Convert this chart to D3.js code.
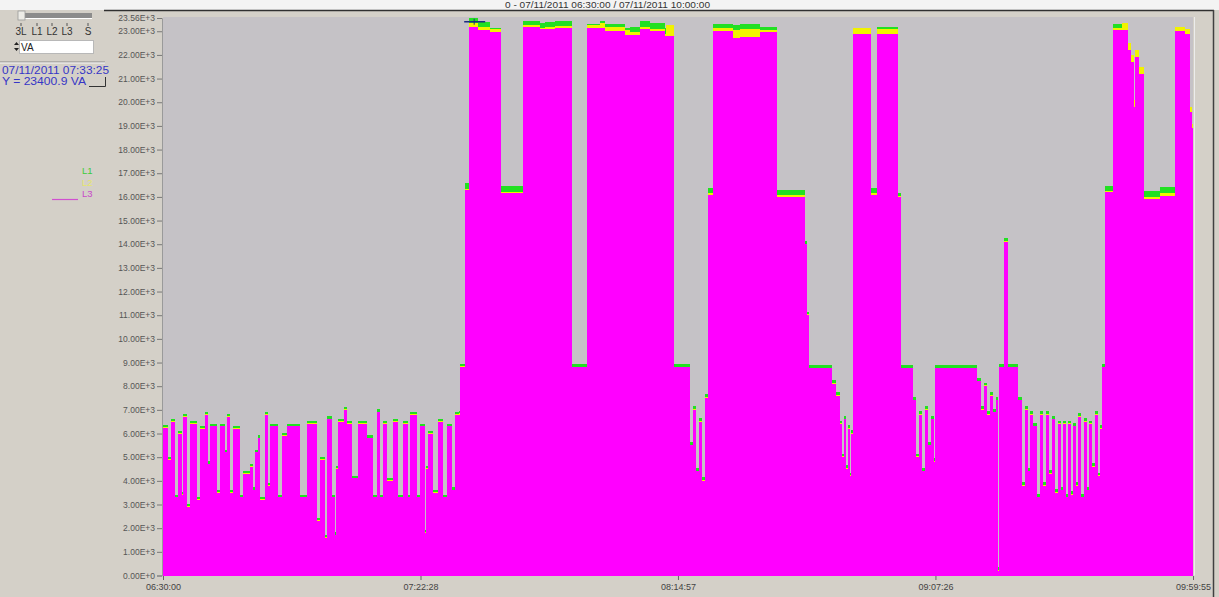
<!DOCTYPE html>
<html>
<head>
<meta charset="utf-8">
<script src="https://cdn.jsdelivr.net/npm/d3@7"></script>
<style>
  body { margin: 0; background: #d4d0c8; }
  svg { display: block; font-family: "Liberation Sans", Arial, sans-serif; }
</style>
</head>
<body>
<svg id="chart" width="1219" height="597"></svg>
<script>
// L3 apparent power, step changes: minutes after 06:30:00 -> kVA
const l3Time = [
  0, 1.02, 1.63, 2.45, 3.06, 3.87, 4.08, 4.89, 5.50, 6.93, 7.54, 8.56, 9.17, 9.58,
  11.01, 11.62, 12.64, 13.04, 13.65, 14.27, 15.69, 16.30, 17.73, 18.34, 18.75, 19.36,
  19.77, 20.79, 21.40, 21.81, 23.44, 24.25, 25.27, 27.92, 29.35, 31.39, 32.00, 33.02,
  33.42, 34.44, 35.05, 35.26, 35.67, 36.89, 37.50, 38.52, 39.74, 41.58, 42.80, 43.61,
  44.22, 44.84, 45.65, 46.87, 47.89, 48.91, 49.93, 50.34, 51.77, 52.38, 53.40, 53.60,
  54.01, 55.03, 56.05, 57.07, 57.88, 58.90, 59.51, 60.53, 61.55, 62.37, 64.20, 66.64,
  68.89, 73.37, 76.83, 79.89, 83.36, 86.41, 90.08, 94.16, 97.21, 99.25, 102.31, 104.14,
  107.40, 108.01, 108.63, 109.24, 109.85, 110.46, 111.07, 112.09, 116.17, 117.60, 121.67,
  125.13, 130.84, 131.25, 131.66, 136.35, 137.16, 137.97, 138.38, 138.79, 139.20, 139.61,
  140.02, 140.22, 140.62, 144.29, 145.51, 149.79, 150.41, 152.86, 153.47, 154.08, 154.69,
  155.30, 155.91, 156.52, 157.13, 157.34, 165.90, 166.71, 167.32, 167.93, 168.54, 169.16,
  169.77, 170.17, 170.38, 171.40, 172.21, 174.25, 175.06, 175.67, 176.29, 176.70, 177.31,
  178.13, 178.74, 179.35, 179.96, 180.57, 181.18, 181.79, 182.41, 183.02, 183.43, 184.04,
  184.45, 185.06, 185.47, 186.08, 186.49, 187.10, 187.71, 188.31, 188.73, 189.34, 189.95,
  190.57, 190.97, 191.38, 191.99, 193.62, 196.68, 197.29, 197.90, 198.11, 198.92, 199.94,
  203.20, 206.25, 208.29, 209.31, 209.72
];
const l3Kva = [
  6.25, 4.9, 6.5, 3.3, 6.0, 3.4, 6.7, 2.9, 6.4, 3.2, 6.2, 6.8, 4.7, 6.3,
  3.5, 6.3, 5.2, 6.7, 3.5, 6.2, 3.3, 4.3, 4.6, 3.6, 5.2, 5.8,
  3.2, 6.8, 3.8, 6.3, 3.3, 5.9, 6.3, 3.3, 6.4, 2.3, 4.9, 1.6,
  6.6, 3.3, 1.7, 4.5, 6.5, 7.0, 6.4, 4.1, 6.4, 5.8, 3.3, 6.9,
  3.3, 6.4, 4.0, 6.5, 3.3, 6.4, 3.3, 6.8, 3.3, 6.3, 1.8, 4.5,
  6.0, 3.5, 6.5, 3.3, 6.3, 3.6, 6.8, 8.8, 16.3, 23.2, 23.05, 22.95,
  16.15, 23.2, 23.1, 23.15, 8.8, 23.15, 23.0, 22.85, 23.1, 23.0, 22.8, 8.8,
  5.5, 7.0, 4.4, 6.5, 4.0, 7.5, 16.1, 23.0, 22.7, 22.75, 22.95,
  16.0, 14.0, 11.0, 8.75, 8.1, 7.6, 6.4, 5.0, 6.6, 4.5, 6.2,
  4.2, 6.0, 22.9, 16.1, 22.9, 16.0, 8.75, 7.4, 5.0, 6.8, 4.4,
  7.0, 5.5, 6.6, 4.8, 8.75, 8.2, 7.0, 8.0, 6.8, 7.6, 6.9,
  7.4, 0.2, 8.8, 14.1, 8.8, 7.4, 3.8, 7.0, 4.4, 6.8, 6.3,
  3.3, 6.8, 3.8, 6.8, 4.3, 6.6, 3.5, 6.4, 3.6, 6.4, 3.3,
  6.4, 3.4, 6.3, 3.8, 6.7, 3.3, 6.5, 3.6, 6.4, 4.6, 6.8,
  4.2, 6.2, 8.8, 16.2, 23.05, 22.2, 21.7, 19.8, 21.9, 21.2, 15.9,
  16.05, 23.0, 22.9, 19.6, 18.9
];
const endTime = 209.92;

// how far L1 and L2 sit above L3 in each stretch (kVA)
const bandTime = [0, 60.33, 61.55, 62.37, 66.64, 68.89, 73.37, 77.85, 83.36, 86.41, 89.06,
  95.18, 102.51, 104.14, 111.07, 112.09, 116.17, 121.67, 125.13, 130.84, 140.62, 144.29,
  145.51, 149.79, 191.99, 193.62, 195.46, 199.94, 206.25];
const l1Over = [0.12, 0.15, 0.28, 0.35, 0.2, 0.3, 0.25, 0.3, 0.15, 0.15, 0.3,
  0.35, 0.2, 0.15, 0.28, 0.3, 0.55, 0.25, 0.28, 0.15, 0.1, 0.28,
  0.3, 0.15, 0.28, 0.25, 0.1, 0.35, 0.1];
const l2Over = [0.03, 0.05, 0.05, 0.15, 0.15, 0.06, 0.05, 0.08, 0.03, 0.1, 0.2,
  0.1, 0.45, 0.03, 0.05, 0.15, 0.35, 0.1, 0.06, 0.03, 0.25, 0.05,
  0.2, 0.03, 0.05, 0.1, 0.3, 0.1, 0.2];

const yTicks = [0, 1, 2, 3, 4, 5, 6, 7, 8, 9, 10, 11, 12, 13, 14, 15, 16, 17, 18, 19, 20, 21, 22, 23, 23.56];
const xTickTimes = [0, 52.48, 104.95, 157.43, 209.92];
const xTickLabels = ["06:30:00", "07:22:28", "08:14:57", "09:07:26", "09:59:55"];

const cursorTime = 63.42;   // 07:33:25
const cursorKva = 23.4009;
const phases = ["L1", "L2", "L3"];
const phaseColors = ["#22e022", "#f2f200", "#ff00ff"];

const svg = d3.select("#chart");
const W = 1219, H = 597;
const plot = { left: 163, right: 1193, top: 18, bottom: 575.5 };

const x = d3.scaleLinear().domain([0, endTime]).range([plot.left, plot.right]);
const y = d3.scaleLinear().domain([0, 23.56]).range([plot.bottom, plot.top]);

// window chrome
svg.append("rect").attr("width", W).attr("height", H).attr("fill", "#d4d0c8");
svg.append("rect").attr("width", W).attr("height", 10).attr("fill", "#f3f3f3");
svg.append("line").attr("x1", 104).attr("x2", 1214).attr("y1", 10.5).attr("y2", 10.5)
  .attr("stroke", "#303030").attr("stroke-width", 1.5);
svg.append("line").attr("x1", 1213.5).attr("x2", 1213.5).attr("y1", 10).attr("y2", H)
  .attr("stroke", "#404040").attr("stroke-width", 1.5);
svg.append("text").attr("x", 505).attr("y", 8).attr("font-size", 8.5).attr("fill", "#333")
  .attr("textLength", 205).attr("lengthAdjust", "spacingAndGlyphs")
  .text("0 - 07/11/2011 06:30:00 / 07/11/2011 10:00:00");

svg.append("rect").attr("x", plot.left).attr("y", plot.top - 1)
  .attr("width", plot.right - plot.left).attr("height", plot.bottom - plot.top + 1)
  .attr("fill", "#c5c2c6");
svg.append("line").attr("x1", plot.right + 1.5).attr("x2", plot.right + 1.5)
  .attr("y1", plot.top - 1).attr("y2", plot.bottom).attr("stroke", "#ececec");

// build phase series
function stepAt(times, vals, t) {
  const i = Math.max(d3.bisectRight(times, t) - 1, 0);
  return vals[i];
}
const allTimes = Array.from(new Set(l3Time.concat(bandTime))).sort((a, b) => a - b);
allTimes.push(endTime);
const series = [
  allTimes.map(t => ({ t, v: stepAt(l3Time, l3Kva, t) + stepAt(bandTime, l1Over, t) })),
  allTimes.map(t => ({ t, v: stepAt(l3Time, l3Kva, t) + stepAt(bandTime, l2Over, t) })),
  allTimes.map(t => ({ t, v: stepAt(l3Time, l3Kva, t) }))
];

const area = d3.area()
  .curve(d3.curveStepAfter)
  .x(d => x(d.t))
  .y0(y(0))
  .y1(d => y(d.v));

svg.append("g")
  .selectAll("path")
  .data(series)
  .enter().append("path")
  .attr("d", area)
  .attr("fill", (d, i) => phaseColors[i])
  .attr("shape-rendering", "crispEdges");

// cursor cross
svg.append("line").attr("x1", x(cursorTime) - 10).attr("x2", x(cursorTime) + 11)
  .attr("y1", y(cursorKva)).attr("y2", y(cursorKva)).attr("stroke", "#1c2c80").attr("stroke-width", 1.5);
svg.append("line").attr("x1", x(cursorTime)).attr("x2", x(cursorTime))
  .attr("y1", y(cursorKva) - 3).attr("y2", y(cursorKva) + 3).attr("stroke", "#1c2c80");

// axes
const yAxis = d3.axisLeft(y)
  .tickValues(yTicks)
  .tickSize(5)
  .tickPadding(2)
  .tickFormat(v => v === 0 ? "0.00E+0" : v.toFixed(2) + "E+3");
const gy = svg.append("g")
  .attr("transform", `translate(${plot.left - 1},0)`)
  .call(yAxis);
gy.select(".domain").attr("stroke", "#9a9a9a");
gy.selectAll(".tick line").attr("stroke", "#777");
gy.selectAll(".tick text").attr("font-size", 8.5).attr("fill", "#555")
  .attr("font-family", "Liberation Sans, Arial, sans-serif");

const xAxis = d3.axisBottom(x)
  .tickValues(xTickTimes)
  .tickSize(4)
  .tickPadding(4)
  .tickFormat((d, i) => xTickLabels[i]);
const gx = svg.append("g")
  .attr("transform", `translate(0,${plot.bottom + 0.5})`)
  .call(xAxis);
gx.select(".domain").remove();
gx.selectAll(".tick line").attr("stroke", "#666");
gx.selectAll(".tick text").attr("font-size", 9).attr("fill", "#444")
  .attr("font-family", "Liberation Sans, Arial, sans-serif");

// left control panel
const panel = svg.append("g");
panel.append("rect").attr("x", 25).attr("y", 13).attr("width", 67).attr("height", 5).attr("fill", "#8c8c8c");
panel.append("rect").attr("x", 25).attr("y", 18).attr("width", 67).attr("height", 1).attr("fill", "#ffffff");
panel.append("rect").attr("x", 18).attr("y", 11).attr("width", 7).attr("height", 9)
  .attr("fill", "#ecebe6").attr("stroke", "#9a9a9a").attr("stroke-width", 0.8);

const sliderLabels = ["3L", "L1", "L2", "L3", "S"];
const sliderPos = [21, 37, 52, 67, 88];
panel.selectAll(".sl")
  .data(sliderLabels)
  .enter().append("text")
  .attr("x", (d, i) => sliderPos[i])
  .attr("y", 35)
  .attr("text-anchor", "middle")
  .attr("font-size", 10)
  .attr("fill", "#333")
  .text(d => d);
panel.selectAll(".st")
  .data(sliderPos)
  .enter().append("line")
  .attr("x1", d => d).attr("x2", d => d)
  .attr("y1", 23).attr("y2", 26)
  .attr("stroke", "#555");

panel.append("rect").attr("x", 19.5).attr("y", 40.5).attr("width", 74).attr("height", 13)
  .attr("fill", "#ffffff").attr("stroke", "#b8b8b8");
panel.append("path").attr("d", "M14,45 L16.5,42 L19,45 Z M14,48 L16.5,51 L19,48 Z").attr("fill", "#222");
panel.append("text").attr("x", 21).attr("y", 51).attr("font-size", 10).attr("fill", "#222").text("VA");

panel.append("line").attr("x1", 0).attr("x2", 105).attr("y1", 62).attr("y2", 62).attr("stroke", "#8a8a8a");
panel.append("line").attr("x1", 0).attr("x2", 105).attr("y1", 63).attr("y2", 63).attr("stroke", "#f4f4f4");

panel.append("text").attr("x", 2).attr("y", 74).attr("font-size", 11.5)
  .attr("textLength", 107).attr("lengthAdjust", "spacingAndGlyphs")
  .attr("fill", "#3636c6").text("07/11/2011 07:33:25");
panel.append("text").attr("x", 2).attr("y", 84.5).attr("font-size", 11.5)
  .attr("textLength", 84).attr("lengthAdjust", "spacingAndGlyphs")
  .attr("fill", "#3636c6").text("Y = 23400.9 VA");
panel.append("path").attr("d", "M89,86.5 H105.5 V77").attr("fill", "none").attr("stroke", "#333");

// legend
const legendColors = ["#3ccc3c", "#e6e66a", "#c848c8"];
panel.selectAll(".lg")
  .data(phases)
  .enter().append("text")
  .attr("x", 82)
  .attr("y", (d, i) => 174 + i * 11.5)
  .attr("font-size", 9.5)
  .attr("fill", (d, i) => legendColors[i])
  .text(d => d);
panel.append("line").attr("x1", 52).attr("x2", 78).attr("y1", 199.5).attr("y2", 199.5)
  .attr("stroke", "#d050d0").attr("stroke-width", 1.2);
</script>
</body>
</html>
